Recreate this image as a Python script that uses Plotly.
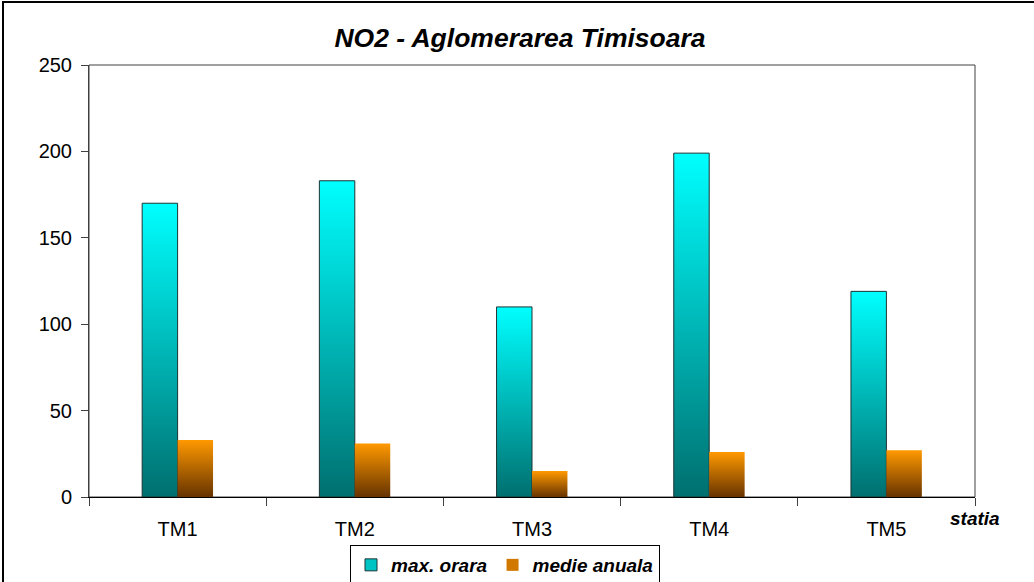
import plotly.graph_objects as go

# Stations and NO2 concentrations
stations = ["TM1", "TM2", "TM3", "TM4", "TM5"]
max_orara = [170, 183, 110, 199, 119]
medie_anuala = [33, 31, 15, 26, 27]
y_ticks = [0, 50, 100, 150, 200, 250]

BAR_W = 0.2
FONT = "Liberation Sans, Arial, sans-serif"

cyan_scale = [[0, "#006f6f"], [1, "#00ffff"]]
orange_scale = [[0, "#663300"], [1, "#ff9900"]]

fig = go.Figure()


def add_bar(x0, x1, value, scale, line_color, line_width):
    fig.add_trace(go.Scatter(
        x=[x0, x0, x1, x1, x0],
        y=[0, value, value, 0, 0],
        mode="lines",
        fill="toself",
        fillgradient=dict(type="vertical", colorscale=scale),
        line=dict(color=line_color, width=line_width),
        showlegend=False,
        hoverinfo="skip",
    ))


for i, v in enumerate(max_orara):
    add_bar(i - BAR_W, i, v, cyan_scale, "#1c3434", 1)
for i, v in enumerate(medie_anuala):
    add_bar(i, i + BAR_W, v, orange_scale, "rgba(0,0,0,0)", 0)

# Legend entries
fig.add_trace(go.Bar(x=[None], y=[None], name="<b><i>max. orara</i></b>",
                     marker=dict(color="#00c4c4", line=dict(color="#1c3434", width=1))))
fig.add_trace(go.Bar(x=[None], y=[None], name="<b><i>medie anuala</i></b>",
                     marker=dict(color="#d07800", line=dict(width=0))))

L, R, T, B = 89, 59, 65, 85
W, H = 1034, 582
pw, ph = W - L - R, H - T - B

fig.update_layout(
    width=W, height=H,
    margin=dict(l=L, r=R, t=T, b=B, autoexpand=False),
    paper_bgcolor="white",
    plot_bgcolor="white",
    font=dict(family=FONT, size=20, color="black"),
    title=dict(
        text="<b><i>NO2 - Aglomerarea Timisoara</i></b>",
        x=520 / W, xref="container", xanchor="center",
        y=1 - 38 / H, yref="container", yanchor="middle",
        font=dict(size=26.5, family=FONT),
    ),
    showlegend=True,
    legend=dict(
        orientation="h",
        x=(350 - L) / pw, xanchor="left",
        y=(H - B - 545) / ph, yanchor="top",
        bordercolor="black", borderwidth=1,
        font=dict(size=19, family=FONT),
        itemwidth=30,
        tracegroupgap=0,
    ),
    xaxis=dict(
        range=[-0.5, 4.5],
        tickvals=list(range(len(stations))),
        ticktext=stations,
        ticks="outside", ticklen=14, tickcolor="rgba(0,0,0,0)",
        showgrid=False, zeroline=False,
        showline=True, linecolor="black", linewidth=1,
        minor=dict(tick0=-0.5, dtick=1, ticks="outside", ticklen=8,
                   tickcolor="#404040", tickwidth=1),
        tickfont=dict(size=20),
    ),
    yaxis=dict(
        range=[0, 250],
        tickvals=y_ticks,
        ticks="outside", ticklen=7, tickcolor="#404040",
        ticklabelstandoff=5,
        showgrid=False, zeroline=False,
        showline=True, linecolor="#404040", linewidth=1,
        tickfont=dict(size=20),
    ),
)

# Plot-area frame (top and right edges)
fig.add_shape(type="rect", xref="paper", yref="paper", x0=0, x1=1, y0=0, y1=1,
              line=dict(color="#404040", width=1), layer="below")

# Outer chart border
fig.add_shape(type="rect", xref="paper", yref="paper",
              x0=(3 - L) / pw, x1=2, y0=-1, y1=(H - B - 2) / ph,
              line=dict(color="black", width=2))

# Category axis title
fig.add_annotation(text="<b><i>statia</i></b>", xref="paper", yref="paper",
                   x=(975 - L) / pw, y=(H - B - 518) / ph,
                   xanchor="center", yanchor="middle", showarrow=False,
                   font=dict(size=19, family=FONT))

fig.write_html("out.html")
